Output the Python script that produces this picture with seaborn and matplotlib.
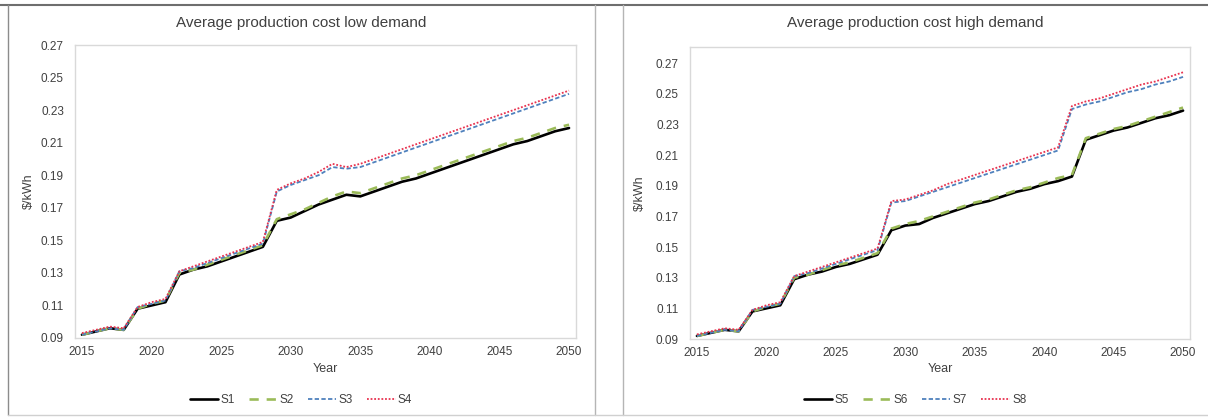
import matplotlib
matplotlib.use("Agg")
import matplotlib.pyplot as plt
from matplotlib.lines import Line2D
import seaborn as sns
import numpy as np

years = list(range(2015, 2051))

# Low demand
S1 = [0.092, 0.094, 0.096, 0.095, 0.108, 0.110, 0.112, 0.129, 0.132, 0.134, 0.137, 0.140, 0.143, 0.146,
      0.162, 0.164, 0.168, 0.172, 0.175, 0.178, 0.177, 0.180, 0.183, 0.186, 0.188, 0.191, 0.194, 0.197,
      0.200, 0.203, 0.206, 0.209, 0.211, 0.214, 0.217, 0.219]
S2 = [0.092, 0.094, 0.096, 0.095, 0.108, 0.111, 0.113, 0.130, 0.132, 0.135, 0.138, 0.141, 0.144, 0.147,
      0.163, 0.166, 0.169, 0.173, 0.177, 0.180, 0.179, 0.182, 0.185, 0.188, 0.190, 0.193, 0.196, 0.199,
      0.202, 0.205, 0.208, 0.211, 0.213, 0.216, 0.219, 0.221]
S3 = [0.092, 0.094, 0.096, 0.095, 0.109, 0.111, 0.113, 0.131, 0.133, 0.136, 0.139, 0.142, 0.145, 0.148,
      0.180, 0.184, 0.187, 0.190, 0.195, 0.194, 0.195, 0.198, 0.201, 0.204, 0.207, 0.210, 0.213, 0.216,
      0.219, 0.222, 0.225, 0.228, 0.231, 0.234, 0.237, 0.240]
S4 = [0.093, 0.095, 0.097, 0.096, 0.109, 0.112, 0.114, 0.131, 0.134, 0.137, 0.140, 0.143, 0.146, 0.149,
      0.181, 0.185, 0.188, 0.192, 0.197, 0.195, 0.197, 0.200, 0.203, 0.206, 0.209, 0.212, 0.215, 0.218,
      0.221, 0.224, 0.227, 0.230, 0.233, 0.236, 0.239, 0.242]

# High demand
S5 = [0.092, 0.094, 0.096, 0.095, 0.108, 0.110, 0.112, 0.129, 0.132, 0.134, 0.137, 0.139, 0.142, 0.145,
      0.161, 0.164, 0.165, 0.169, 0.172, 0.175, 0.178, 0.180, 0.183, 0.186, 0.188, 0.191, 0.193, 0.196,
      0.220, 0.223, 0.226, 0.228, 0.231, 0.234, 0.236, 0.239]
S6 = [0.092, 0.094, 0.096, 0.095, 0.108, 0.111, 0.113, 0.130, 0.132, 0.135, 0.138, 0.140, 0.143, 0.146,
      0.162, 0.165, 0.167, 0.170, 0.173, 0.176, 0.179, 0.181, 0.184, 0.187, 0.189, 0.192, 0.195, 0.197,
      0.221, 0.224, 0.227, 0.229, 0.232, 0.235, 0.238, 0.241]
S7 = [0.092, 0.094, 0.096, 0.095, 0.109, 0.111, 0.113, 0.131, 0.133, 0.136, 0.139, 0.142, 0.145, 0.148,
      0.179, 0.180, 0.183, 0.186, 0.189, 0.192, 0.195, 0.198, 0.201, 0.204, 0.207, 0.210, 0.213, 0.240,
      0.243, 0.245, 0.248, 0.251, 0.253, 0.256, 0.258, 0.261]
S8 = [0.093, 0.095, 0.097, 0.096, 0.109, 0.112, 0.114, 0.131, 0.134, 0.137, 0.140, 0.143, 0.146, 0.149,
      0.180, 0.181, 0.184, 0.187, 0.191, 0.194, 0.197, 0.200, 0.203, 0.206, 0.209, 0.212, 0.215, 0.242,
      0.245, 0.247, 0.250, 0.253, 0.256, 0.258, 0.261, 0.264]

titles = ["Average production cost low demand", "Average production cost high demand"]
xticks = [2015, 2020, 2025, 2030, 2035, 2040, 2045, 2050]
yticks = [0.09, 0.11, 0.13, 0.15, 0.17, 0.19, 0.21, 0.23, 0.25, 0.27]

sns.set_theme(style="white")
plt.rcParams['font.family'] = ['Liberation Sans', 'DejaVu Sans']

W, H = 1208, 418
fig = plt.figure(figsize=(W / 100, H / 100), dpi=100)

styles = [
    dict(color="black", linewidth=1.9, linestyle="-"),
    dict(color="#9BBB59", linewidth=1.9, linestyle=(0, (3.5, 3.0))),
    dict(color="#4F81BD", linewidth=1.3, linestyle=(0, (2.4, 1.3))),
    dict(color="#E8324F", linewidth=1.3, linestyle=(0, (1.0, 1.0))),
]

panels = [
    dict(series=[("S1", S1), ("S2", S2), ("S3", S3), ("S4", S4)], ax=(75, 576, 45, 338), ylim=(0.09, 0.27),
         pcx=301, ylab_x=35),
    dict(series=[("S5", S5), ("S6", S6), ("S7", S7), ("S8", S8)], ax=(690, 1190, 47, 339), ylim=(0.09, 0.2805),
         pcx=915, ylab_x=646),
]

for i, p in enumerate(panels):
    l, r, t, b = p["ax"]
    ax = fig.add_axes([l / W, 1 - b / H, (r - l) / W, (b - t) / H])
    for (name, vals), st in zip(p["series"], styles):
        sns.lineplot(x=years, y=vals, ax=ax, label=name, legend=False, **st)
    ax.set_xlim(2014.5, 2050.5)
    ax.set_ylim(*p["ylim"])
    ax.set_xticks(xticks)
    ax.set_yticks(yticks)
    ax.set_yticklabels([f"{v:.2f}" for v in yticks])
    ax.tick_params(axis="both", length=0, labelsize=8.5, colors="#404040")
    ax.tick_params(axis="y", pad=8)
    ax.tick_params(axis="x", pad=6)
    for s in ax.spines.values():
        s.set_color("#D9D9D9")
        s.set_linewidth(1.0)
    ax.set_xlabel("Year", fontsize=9, color="#404040")
    ax.set_ylabel("$/kWh", fontsize=9, color="#404040")
    ax.xaxis.set_label_coords(0.5, -(363 - b) / (b - t) if False else -(363 - b) / (b - t))
    ax.yaxis.set_label_coords((p["ylab_x"] - l) / (r - l), 0.5)
    fig.text(p["pcx"] / W, 1 - 23 / H, titles[i], ha="center", va="center", fontsize=11, color="#404040")
    handles, labels = ax.get_legend_handles_labels()
    fig.legend(handles, labels, loc="center", bbox_to_anchor=(p["pcx"] / W, 1 - 400 / H), ncol=4,
               frameon=False, fontsize=8.5, handlelength=2.4, handletextpad=0.2, columnspacing=1.2,
               labelcolor="#404040")

# panel frames
def fline(x0, y0, x1, y1, color, lw):
    fig.add_artist(Line2D([x0 / W, x1 / W], [1 - y0 / H, 1 - y1 / H], transform=fig.transFigure,
                          color=color, linewidth=lw))

fline(0, 5, W, 5, "#6E6E6E", 1.5)
fline(8, 5, 8, 415, "#8C8C8C", 1.0)
fline(595, 5, 595, 415, "#B5B5B5", 1.0)
fline(623, 5, 623, 415, "#B5B5B5", 1.0)
fline(8, 415, W, 415, "#D0D0D0", 1.0)

fig.savefig("out.png", dpi=100)
